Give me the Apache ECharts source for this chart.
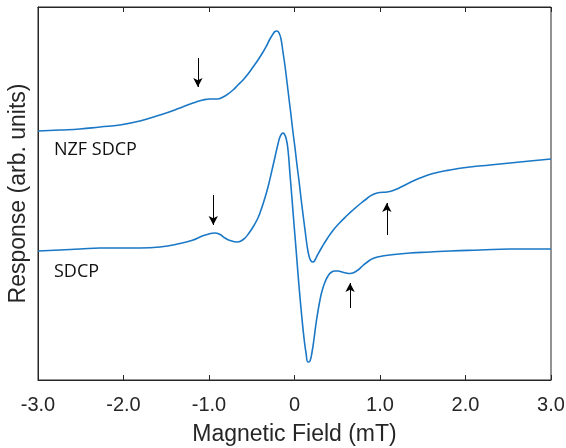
<!DOCTYPE html>
<html>
<head>
<meta charset="utf-8">
<script src="https://cdn.jsdelivr.net/npm/echarts@6/dist/echarts.min.js"></script>
<style>
  html, body { margin: 0; padding: 0; background: #fff; }
  #chart { width: 566px; height: 448px; }
</style>
</head>
<body>
<div id="chart"></div>
<script>
// magnetic field (mT) vs response (arb. units)
const nzfField = [-3.000, -2.743, -2.509, -2.275, -2.041, -1.807, -1.573, -1.339, -1.187, -1.070, -0.988, -0.906, -0.836, -0.778,
    -0.719, -0.661, -0.602, -0.544, -0.485, -0.427, -0.368, -0.322, -0.287, -0.251, -0.228, -0.205, -0.181, -0.158, -0.135,
    -0.111, -0.088, -0.064, -0.041, -0.018, 0.006, 0.029, 0.053, 0.076, 0.099, 0.123, 0.146, 0.170, 0.193, 0.216, 0.240,
    0.263, 0.322, 0.380, 0.450, 0.532, 0.614, 0.684, 0.766, 0.848, 0.918, 1.000, 1.082, 1.152, 1.234, 1.351, 1.468, 1.620,
    1.819, 2.053, 2.287, 2.520, 2.754, 3.000];
const nzfResp = [249, 250, 251, 253, 255, 259, 265, 272, 277, 280, 281, 281, 283, 286,
    290, 295, 300, 306, 313, 320, 328, 335, 341, 346, 348.5, 349, 347, 341, 328,
    314, 298, 281, 265, 248, 232, 215, 199, 182, 166, 150, 135, 124, 119, 118, 120,
    124, 133, 141, 149.5, 157.5, 164.5, 170, 176, 181.5, 185.5, 187.5, 188, 189.5, 192.5, 197.5, 202, 206.5,
    210, 213, 215, 217, 219, 221];

const sdcpField = [-3.000, -2.743, -2.509, -2.275, -2.041, -1.807, -1.573, -1.339, -1.187, -1.105, -1.023, -0.930, -0.871, -0.813,
    -0.754, -0.673, -0.626, -0.579, -0.532, -0.485, -0.439, -0.404, -0.357, -0.310, -0.263, -0.228, -0.193, -0.170, -0.146,
    -0.135, -0.123, -0.099, -0.076, -0.053, -0.029, -0.006, 0.018, 0.041, 0.064, 0.088, 0.111, 0.135, 0.158, 0.181, 0.205,
    0.228, 0.251, 0.275, 0.298, 0.322, 0.357, 0.392, 0.427, 0.474, 0.509, 0.556, 0.602, 0.649, 0.696, 0.743, 0.801, 0.860,
    0.918, 1.000, 1.117, 1.351, 1.585, 1.819, 2.170, 2.520, 3.000];
const sdcpResp = [129, 130, 131, 132, 132, 132, 133, 136.5, 140, 143, 145.5, 147, 145.5, 142,
    139.5, 138, 139, 142, 147, 153, 160, 167, 179, 193, 210, 223, 236, 243, 246.5,
    247, 246.5, 242, 230, 206, 181, 156, 131, 106, 83, 61, 42, 27, 18, 19, 28,
    41, 56, 69, 80, 89, 98, 104, 107.5, 109, 109, 108, 107, 106.5, 107.5, 110, 114.5, 118.5,
    121.5, 123.5, 125, 127, 128, 129, 130, 131, 131];

// arrows: [field, tailResp, headResp]
const nzfArrows = [[-1.13, 322, 293], [1.08, 145, 177]];
const sdcpArrows = [[-0.95, 185, 155], [0.65, 72, 97]];

const xTicks = { min: -3, max: 3, interval: 1 };

const zip = (xs, ys) => xs.map((x, i) => [x, ys[i]]);
const arrowLines = list => list.map(a => [{ coord: [a[0], a[1]] }, { coord: [a[0], a[2]] }]);

const axisColor = '#262626';
const chart = echarts.init(document.getElementById('chart'));

const lineSeries = (name, data, arrows) => ({
    name: name,
    type: 'line',
    data: data,
    smooth: 0.5,
    showSymbol: false,
    lineStyle: { color: '#1a78c6', width: 1.6 },
    markLine: {
        silent: true,
        symbol: ['none', 'arrow'],
        symbolSize: [7, 9],
        label: { show: false },
        lineStyle: { color: '#000', width: 1, type: 'solid' },
        data: arrowLines(arrows)
    }
});

chart.setOption({
    animation: false,
    grid: {
        left: 38, right: 15, top: 7, bottom: 68,
        outerBoundsMode: 'none',
        show: true, borderColor: axisColor, borderWidth: 1
    },
    xAxis: [{
        type: 'value',
        min: xTicks.min, max: xTicks.max, interval: xTicks.interval,
        name: 'Magnetic Field (mT)',
        nameLocation: 'middle',
        nameGap: 43,
        nameTextStyle: { fontFamily: 'Liberation Sans', fontSize: 23, color: axisColor },
        axisLine: { show: true, onZero: false, lineStyle: { color: axisColor } },
        axisTick: { show: true, inside: true, length: 5, lineStyle: { color: axisColor } },
        axisLabel: {
            fontFamily: 'Liberation Sans', fontSize: 20, color: axisColor, margin: 15,
            formatter: v => v === 0 ? '0' : v.toFixed(1)
        },
        splitLine: { show: false }
    }, {
        type: 'value',
        position: 'top',
        min: xTicks.min, max: xTicks.max, interval: xTicks.interval,
        axisLine: { show: true, onZero: false, lineStyle: { color: axisColor } },
        axisTick: { show: true, inside: true, length: 5, lineStyle: { color: axisColor } },
        axisLabel: { show: false },
        splitLine: { show: false }
    }],
    yAxis: {
        type: 'value',
        min: 0, max: 373,
        name: 'Response (arb. units)',
        nameLocation: 'middle',
        nameGap: 8,
        nameTextStyle: { fontFamily: 'Liberation Sans', fontSize: 23, color: axisColor },
        axisLine: { show: true, onZero: false, lineStyle: { color: axisColor } },
        axisTick: { show: false },
        axisLabel: { show: false },
        splitLine: { show: false }
    },
    graphic: [
        { type: 'text', left: 54, top: 141, style: { text: 'NZF SDCP', font: '18px "Open Sans"', fill: '#111' } },
        { type: 'text', left: 54, top: 263, style: { text: 'SDCP', font: '18px "Open Sans"', fill: '#111' } }
    ],
    series: [
        lineSeries('NZF SDCP', zip(nzfField, nzfResp), nzfArrows),
        lineSeries('SDCP', zip(sdcpField, sdcpResp), sdcpArrows)
    ]
});
</script>
</body>
</html>
